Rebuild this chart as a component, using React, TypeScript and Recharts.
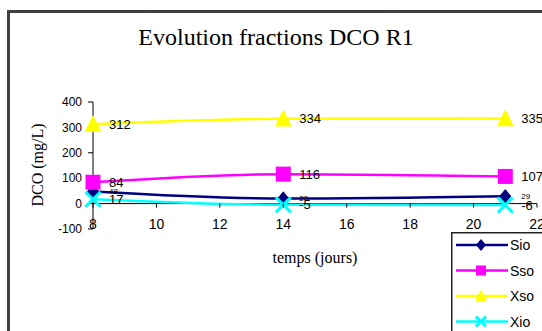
import React from 'react'
import { LineChart, Line, XAxis, YAxis, ReferenceLine, LabelList } from 'recharts'

// temps (jours) and DCO fractions (mg/L)
const days = [8, 14, 21]
const sio = [48, 20, 29]
const sso = [84, 116, 107]
const xso = [312, 334, 335]
const xio = [17, -5, -6]

const xTicks = [8, 10, 12, 14, 16, 18, 20, 22]
const yTicks = [-100, 0, 100, 200, 300, 400]

const data = days.map((d, i) => ({ d, Sio: sio[i], Sso: sso[i], Xso: xso[i], Xio: xio[i] }))

const SANS = '"Liberation Sans", Arial, sans-serif'
const SERIF = '"Liberation Serif", "Times New Roman", serif'

const PLOT_TOP = 102
const PLOT_BOTTOM = 229
const ZERO_Y = PLOT_TOP + (PLOT_BOTTOM - PLOT_TOP) * 0.8

const SERIES = [
  { key: 'Sio', color: '#000080', shape: 'diamond' },
  { key: 'Sso', color: '#FF00FF', shape: 'square' },
  { key: 'Xso', color: '#FFFF00', shape: 'triangle' },
  { key: 'Xio', color: '#00FFFF', shape: 'cross' },
]

function marker(shape: string, color: string, cx: number, cy: number, s: number) {
  if (shape === 'diamond') {
    return <polygon points={`${cx},${cy - s * 0.6} ${cx + s * 0.5},${cy} ${cx},${cy + s * 0.6} ${cx - s * 0.5},${cy}`} fill={color} />
  }
  if (shape === 'square') {
    return <rect x={cx - s / 2} y={cy - s / 2} width={s} height={s} fill={color} />
  }
  if (shape === 'triangle') {
    return <polygon points={`${cx},${cy - s * 0.55} ${cx + s / 2},${cy + s * 0.45} ${cx - s / 2},${cy + s * 0.45}`} fill={color} />
  }
  const h = s / 2
  return (
    <g stroke={color} strokeWidth={3}>
      <line x1={cx - h} y1={cy - h} x2={cx + h} y2={cy + h} />
      <line x1={cx - h} y1={cy + h} x2={cx + h} y2={cy - h} />
    </g>
  )
}

const dotFor = (shape: string, color: string, s: number) => (p: any) =>
  <g key={`${shape}-${p.index}`}>{marker(shape, color, p.cx, p.cy, s)}</g>

const XTick = (p: any) => (
  <g>
    <line x1={p.x} x2={p.x} y1={ZERO_Y} y2={ZERO_Y + 4} stroke="#000" />
    <text x={p.x} y={PLOT_BOTTOM} textAnchor="middle" fontSize={14} fontFamily={SANS} fill="#000">
      {p.payload.value}
    </text>
  </g>
)

const valueLabel = (size: number) => (p: any) => (
  <text x={p.x + 16} y={p.y} dy="0.35em" fontSize={size} fontFamily={SANS} fill="#000">{p.value}</text>
)

const LegendBox = () => (
  <svg width={100} height={110} style={{ position: 'absolute', left: 451, top: 232, display: 'block' }}>
    <rect x={0.75} y={0.75} width={120} height={120} fill="#fff" stroke="#222" strokeWidth={1.5} />
    {SERIES.map((s, i) => {
      const cy = 13 + i * 25.5
      return (
        <g key={s.key}>
          <line x1={5} x2={57} y1={cy} y2={cy} stroke={s.color} strokeWidth={2.5} />
          {marker(s.shape, s.color, 30, cy, s.shape === 'triangle' ? 12 : 10)}
          <text x={59} y={cy} dy="0.36em" fontSize={14} fontFamily={SANS} fill="#000">{s.key}</text>
        </g>
      )
    })}
  </svg>
)

export default function App() {
  return (
    <div style={{ position: 'absolute', left: 0, top: 0, width: 542, height: 331, overflow: 'hidden', background: '#fff' }}>
      <div style={{ position: 'absolute', left: 7, top: 10, width: 700, height: 500, borderLeft: '3px solid #404040', borderTop: '3px solid #404040' }} />
      <div style={{ position: 'absolute', left: 0, width: 552, top: 22, textAlign: 'center', fontFamily: SERIF, fontSize: 24, lineHeight: '30px' }}>
        Evolution fractions DCO R1
      </div>
      <div style={{ position: 'absolute', left: 38, top: 165, transform: 'translate(-50%, -50%) rotate(-90deg)', whiteSpace: 'nowrap', fontFamily: SERIF, fontSize: 16 }}>
        DCO (mg/L)
      </div>
      <div style={{ position: 'absolute', left: 315, top: 258, transform: 'translate(-50%, -50%)', whiteSpace: 'nowrap', fontFamily: SERIF, fontSize: 16 }}>
        temps (jours)
      </div>
      <LineChart width={560} height={331} data={data} margin={{ top: PLOT_TOP, right: 23, left: 43, bottom: 72 }} style={{ position: 'absolute', left: 0, top: 0 }}>
        <XAxis dataKey="d" type="number" domain={[8, 22]} ticks={xTicks} axisLine={false} tickLine={false} tick={<XTick />} height={30} interval={0} />
        <YAxis domain={[-100, 400]} ticks={yTicks} width={50} axisLine={{ stroke: '#000' }} tickLine={{ stroke: '#000' }} tickSize={5} tickMargin={6}
          tick={{ fontSize: 12, fill: '#000', fontFamily: SANS }} interval={0} />
        <ReferenceLine y={0} stroke="#000" strokeWidth={1} />
        {SERIES.map((s) => (
          <Line key={s.key} dataKey={s.key} type="monotone" stroke={s.color} strokeWidth={2.5}
            dot={dotFor(s.shape, s.color, s.shape === 'triangle' ? 17 : s.shape === 'diamond' ? 12 : 15)}
            activeDot={false} isAnimationActive={false}>
            <LabelList dataKey={s.key} content={valueLabel(s.key === 'Sio' ? 8 : 13)} />
          </Line>
        ))}
      </LineChart>
      <LegendBox />
    </div>
  )
}
